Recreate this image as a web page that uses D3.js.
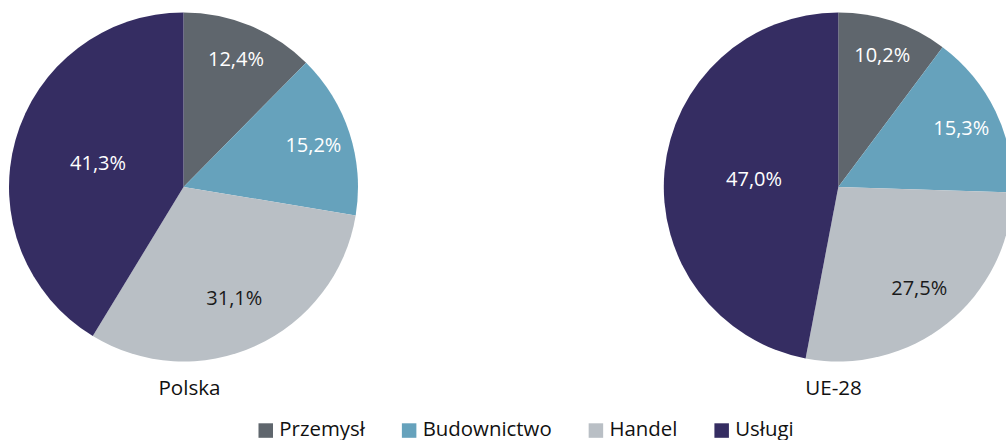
<!DOCTYPE html>
<html>
<head>
<meta charset="utf-8">
<script src="https://cdn.jsdelivr.net/npm/d3@7"></script>
<style>
  html, body { margin: 0; padding: 0; background: #ffffff; }
  svg { display: block; }
  text { font-family: "Open Sans", "Noto Sans", sans-serif; }
</style>
</head>
<body>
<svg id="chart" width="1006" height="440"></svg>
<script>
// ---- data ----
const categories = ["Przemysł", "Budownictwo", "Handel", "Usługi"];
const regions = ["Polska", "UE-28"];
const polskaValues = [12.4, 15.2, 31.1, 41.3];
const ue28Values = [10.2, 15.3, 27.5, 47.0];
const seriesValues = [polskaValues, ue28Values];

// ---- styles ----
const colors = ["#5f666d", "#66a2bc", "#b9bfc5", "#352d62"];
const labelColors = ["#ffffff", "#ffffff", "#1a1a1a", "#ffffff"];

const W = 1006, H = 440;
const svg = d3.select("#chart");

const radius = 174.5;
const cy = 187;
const pieCenterX = d3.scalePoint().domain(regions).range([183.5, 838.3]);
const titleX = d3.scalePoint().domain(regions).range([189.5, 833.5]);

const pl = d3.formatLocale({ decimal: ",", thousands: " ", grouping: [3], currency: ["", " zł"] });
const fmt = pl.format(".1f");

const color = d3.scaleOrdinal().domain(categories).range(colors);
const labelColor = d3.scaleOrdinal().domain(categories).range(labelColors);

// label distance (fraction of radius) depends on slice share, mimicking the original placement
const labelRadius = d3.scaleLinear()
  .domain([0.10, 0.28, 0.31, 0.41, 0.47])
  .range([0.80, 0.74, 0.70, 0.51, 0.485])
  .clamp(true);

const pie = d3.pie().sort(null).value(d => d.value);
const arc = d3.arc().innerRadius(0).outerRadius(radius);

regions.forEach((region, ri) => {
  const data = categories.map((c, i) => ({ category: c, value: seriesValues[ri][i] }));
  const total = d3.sum(data, d => d.value);
  const arcs = pie(data);
  const g = svg.append("g").attr("transform", `translate(${pieCenterX(region)},${cy})`);

  g.selectAll("path.slice")
    .data(arcs)
    .join("path")
    .attr("class", "slice")
    .attr("d", arc)
    .attr("fill", d => color(d.data.category));

  g.selectAll("text.val")
    .data(arcs)
    .join("text")
    .attr("class", "val")
    .attr("transform", d => {
      const r = radius * labelRadius(d.data.value / total);
      const a = (d.startAngle + d.endAngle) / 2;
      return `translate(${Math.sin(a) * r},${-Math.cos(a) * r})`;
    })
    .attr("text-anchor", "middle")
    .attr("dy", "0.36em")
    .attr("font-size", 20)
    .attr("fill", d => labelColor(d.data.category))
    .text(d => fmt(d.value) + "%");

  svg.append("text")
    .attr("x", titleX(region))
    .attr("y", cy + 207.7)
    .attr("text-anchor", "middle")
    .attr("font-size", 20.6)
    .attr("fill", "#111111")
    .text(region);
});

// ---- legend ----
const legend = svg.append("g").attr("transform", "translate(258.5,0)");
let x = 0;
categories.forEach((c) => {
  const item = legend.append("g").attr("transform", `translate(${x},0)`);
  item.append("rect")
    .attr("x", 0).attr("y", 423.3)
    .attr("width", 14.5).attr("height", 14.5)
    .attr("fill", color(c));
  const t = item.append("text")
    .attr("x", 20.8).attr("y", 436)
    .attr("font-size", 20.4)
    .attr("fill", "#111111")
    .text(c);
  const w = t.node().getComputedTextLength();
  x += 20.8 + w + 37;
});
</script>
</body>
</html>
